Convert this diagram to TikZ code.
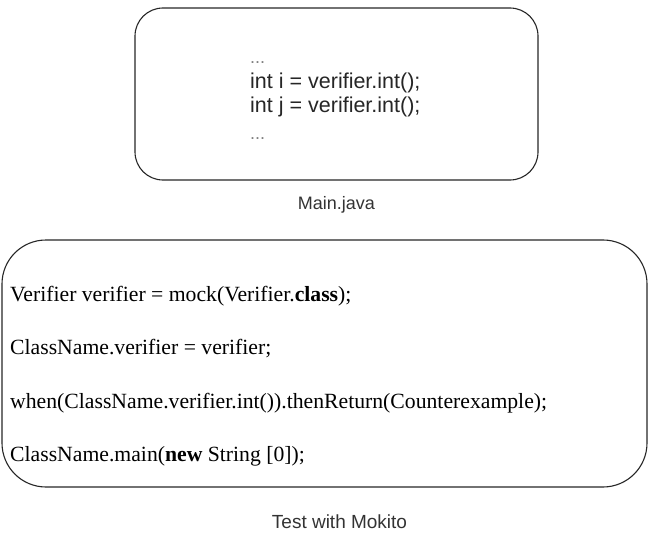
\documentclass[tikz,border=0pt]{standalone}
\usepackage{fontspec}
\setmainfont{Liberation Serif}
\setsansfont{Liberation Sans}
\usetikzlibrary{positioning}
\tikzset{
  codebox/.style={draw=black!85, line width=1.1pt, rounded corners=28pt, inner sep=0pt},
  caption/.style={font=\sffamily\fontsize{18}{21}\selectfont, text=black!80, inner sep=0pt},
  dots/.style={font=\sffamily\fontsize{18}{20}\selectfont, text=black!50, inner sep=0pt, anchor=west},
  javaline/.style={font=\sffamily\fontsize{21.5}{24}\selectfont, text=black!85, inner sep=0pt, anchor=west},
  testline/.style={font=\fontsize{21.7}{25}\selectfont, inner sep=0pt, anchor=west}
}
\begin{document}
\begin{tikzpicture}[x=1pt,y=-1pt]
  \useasboundingbox (0,0) rectangle (649,535);
  % Main.java
  \node[codebox, minimum width=403pt, minimum height=172pt] (mainbox) at (336.5,94) {};
  \node[dots] (dotsa) at (250,63) {...};
  \node[javaline] (linei) at (250,83) {int i = verifier.int();};
  \node[javaline] (linej) at (250,107) {int j = verifier.int();};
  \node[dots] (dotsb) at (250,139) {...};
  \node[caption, below=16pt of mainbox] (maincap) {Main.java};
  % test with mockito
  \node[codebox, rounded corners=44pt, minimum width=645pt, minimum height=247pt] (testbox) at (324.5,363.5) {};
  \node[testline] (mock) at (10,296) {Verifier verifier = mock(Verifier.\textbf{class});};
  \node[testline] (assign) at (10,349) {ClassName.verifier = verifier;};
  \node[testline] (when) at (10,403) {when(ClassName.verifier.int()).thenReturn(Counterexample);};
  \node[testline] (run) at (10,456) {ClassName.main(\textbf{new} String [0]);};
  \node[caption, font=\sffamily\fontsize{19}{22}\selectfont, below=27pt of testbox, xshift=15pt] (testcap) {Test with Mokito};
\end{tikzpicture}
\end{document}
